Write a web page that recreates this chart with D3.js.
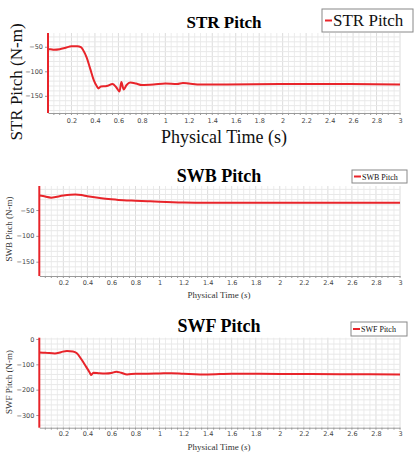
<!DOCTYPE html>
<html><head><meta charset="utf-8">
<script src="https://cdn.jsdelivr.net/npm/d3@7/dist/d3.min.js"></script>
<style>body{margin:0;background:#fff}svg{display:block}</style>
</head><body>
<script>
// ---- Data ----
const xTicks = [0.2,0.4,0.6,0.8,1,1.2,1.4,1.6,1.8,2,2.2,2.4,2.6,2.8,3];

const timeSTR = [0,0.02,0.05,0.1,0.15,0.2,0.25,0.28,0.3,0.33,0.36,0.39,0.42,0.43,0.45,0.5,0.55,0.58,0.61,0.625,0.645,0.67,0.7,0.75,0.8,0.9,1.0,1.1,1.15,1.2,1.3,1.5,2.0,2.5,3.0];
const valuesSTR = [-55,-55,-56,-55,-52,-49,-49,-51,-57,-72,-95,-118,-132,-135,-131,-130,-126,-132,-141,-122,-137,-128,-123,-125,-128,-127,-125,-126,-124,-125,-127,-127,-126,-126,-127];
const yTicksSTR = [-50,-100,-150];

const timeSWB = [0,0.03,0.1,0.2,0.3,0.35,0.4,0.5,0.6,0.7,0.8,0.9,1.0,1.2,1.4,2.0,3.0];
const valuesSWB = [-22,-23,-26,-22,-20,-21,-23.5,-26.5,-29,-31,-32,-33,-34,-35.5,-36,-36,-36];
const yTicksSWB = [-50,-100,-150];

const timeSWF = [0,0.05,0.13,0.18,0.23,0.28,0.31,0.35,0.39,0.42,0.43,0.45,0.5,0.55,0.6,0.64,0.68,0.73,0.8,0.9,1.0,1.1,1.2,1.4,1.6,2.0,2.5,3.0];
const valuesSWF = [-53,-54,-57,-52,-47,-49,-55,-80,-110,-133,-142,-133,-135,-136,-134,-129,-133,-140,-137,-137,-136,-135,-137,-140,-137,-138,-139,-140];
const yTicksSWF = [0,-100,-200,-300];

const svg = d3.select("body").append("svg").attr("width",415).attr("height",458);
const RED = "#e8242a";

function panel(o){
  const x = d3.scaleLinear().domain([0,3]).range([o.left,o.right]);
  const y = d3.scaleLinear().domain(o.yDomain).range([o.bottom,o.top]);
  const g = svg.append("g");
  // grid
  const xs = d3.range(0.05,3.001,0.05);
  g.selectAll(".vg").data(xs).join("line")
    .attr("x1",d=>x(d)).attr("x2",d=>x(d)).attr("y1",o.top).attr("y2",o.bottom)
    .attr("stroke",d=>Math.abs(d*5-Math.round(d*5))<1e-6?"#dcdcdc":"#ececec").attr("stroke-width",1);
  const ys = d3.range(Math.ceil(o.yDomain[0]/o.gridStep)*o.gridStep, o.yDomain[1]+1e-6, o.gridStep);
  g.selectAll(".hg").data(ys).join("line")
    .attr("x1",o.left).attr("x2",o.right).attr("y1",d=>y(d)).attr("y2",d=>y(d))
    .attr("stroke","#e8e8e8").attr("stroke-width",1);
  // x axis
  const xa = g.append("g").attr("transform",`translate(0,${o.bottom})`)
    .call(d3.axisBottom(x).tickValues(xTicks).tickSize(0).tickPadding(o.xPad).tickFormat(d3.format("~g")));
  xa.select(".domain").attr("stroke","#9a9a9a");
  xa.selectAll("text").attr("font-family","DejaVu Sans, sans-serif").attr("font-size",o.tickFont).attr("fill","#444");
  g.selectAll(".mt").data(xs).join("line")
    .attr("x1",d=>x(d)).attr("x2",d=>x(d)).attr("y1",o.bottom).attr("y2",o.bottom+2)
    .attr("stroke","#999");
  // y axis
  const ya = g.append("g").attr("transform",`translate(${o.left},0)`)
    .call(d3.axisLeft(y).tickValues(o.yTicks).tickSize(3).tickPadding(2));
  ya.selectAll(".tick line").attr("stroke","#999");
  ya.select(".domain").remove();
  ya.selectAll("text").attr("font-family","DejaVu Sans, sans-serif").attr("font-size",o.tickFont).attr("fill","#444");
  // red left edge line
  g.append("line").attr("x1",o.left).attr("x2",o.left).attr("y1",o.top).attr("y2",o.bottom)
    .attr("stroke",RED).attr("stroke-width",2);
  // data line
  const pts = o.t.map((t,i)=>[t,o.v[i]]);
  g.append("path").datum(pts)
    .attr("d",d3.line().x(d=>x(d[0])).y(d=>y(d[1])).curve(d3.curveMonotoneX))
    .attr("fill","none").attr("stroke",RED).attr("stroke-width",2);
  // title
  g.append("text").attr("x",o.titleX).attr("y",o.titleY).attr("text-anchor","middle")
    .attr("font-family","Liberation Serif, serif").attr("font-weight","bold")
    .attr("font-size",o.titleFont).attr("fill","#000").text(o.title);
  // y label
  g.append("text").attr("transform",`translate(${o.yLabX},${o.yLabY}) rotate(-90)`)
    .attr("text-anchor","middle").attr("font-family","Liberation Serif, serif")
    .attr("font-size",o.yLabFont).attr("fill",o.labColor).text(o.title+" (N-m)");
  // x label
  const xl = g.append("text").attr("x",o.xLabX).attr("y",o.xLabY).attr("text-anchor","middle")
    .attr("font-family","Liberation Serif, serif").attr("font-size",o.xLabFont).attr("fill",o.labColor);
  xl.append("tspan").text("Physical Time (");
  xl.append("tspan").attr("font-style",o.italicS?"italic":"normal").text("s");
  xl.append("tspan").text(")");
  // legend
  const L = o.legend;
  g.append("rect").attr("x",L.x).attr("y",L.y).attr("width",L.w).attr("height",L.h)
    .attr("fill","#fff").attr("stroke","#888").attr("stroke-width",1);
  g.append("line").attr("x1",L.x+L.lx1).attr("x2",L.x+L.lx2).attr("y1",L.y+L.h/2).attr("y2",L.y+L.h/2)
    .attr("stroke",RED).attr("stroke-width",2);
  g.append("text").attr("x",L.x+L.tx).attr("y",L.y+L.ty).attr("font-family","Liberation Serif, serif")
    .attr("font-size",L.font).attr("fill","#111").text(o.title);
}

panel({title:"STR Pitch",t:timeSTR,v:valuesSTR,yTicks:yTicksSTR,yDomain:[-185,-22],gridStep:10,
  left:48,right:400,top:33,bottom:113,tickFont:6.5,xPad:5,
  titleX:224,titleY:28,titleFont:17,yLabX:22,yLabY:82,yLabFont:17,xLabX:224,xLabY:143,xLabFont:18,
  labColor:"#111",italicS:false,
  legend:{x:322,y:9,w:91,h:23,lx1:3,lx2:10,tx:11,ty:17,font:17}});

panel({title:"SWB Pitch",t:timeSWB,v:valuesSWB,yTicks:yTicksSWB,yDomain:[-177.7,-3.5],gridStep:10,
  left:39.3,right:400,top:186,bottom:276,tickFont:6.5,xPad:4,
  titleX:219,titleY:182,titleFont:18,yLabX:12,yLabY:229,yLabFont:9,xLabX:219,xLabY:298,xLabFont:9,
  labColor:"#333",italicS:true,
  legend:{x:352,y:170,w:55,h:13,lx1:2,lx2:9,tx:10,ty:9.5,font:8}});

panel({title:"SWF Pitch",t:timeSWF,v:valuesSWF,yTicks:yTicksSWF,yDomain:[-350,5],gridStep:20,
  left:39.3,right:400,top:337.7,bottom:427.7,tickFont:6.5,xPad:4,
  titleX:219,titleY:332,titleFont:18,yLabX:12,yLabY:382,yLabFont:9,xLabX:219,xLabY:450,xLabFont:9,
  labColor:"#333",italicS:true,
  legend:{x:351,y:322,w:56,h:14,lx1:2,lx2:9,tx:10,ty:10,font:8}});
</script>
</body></html>
